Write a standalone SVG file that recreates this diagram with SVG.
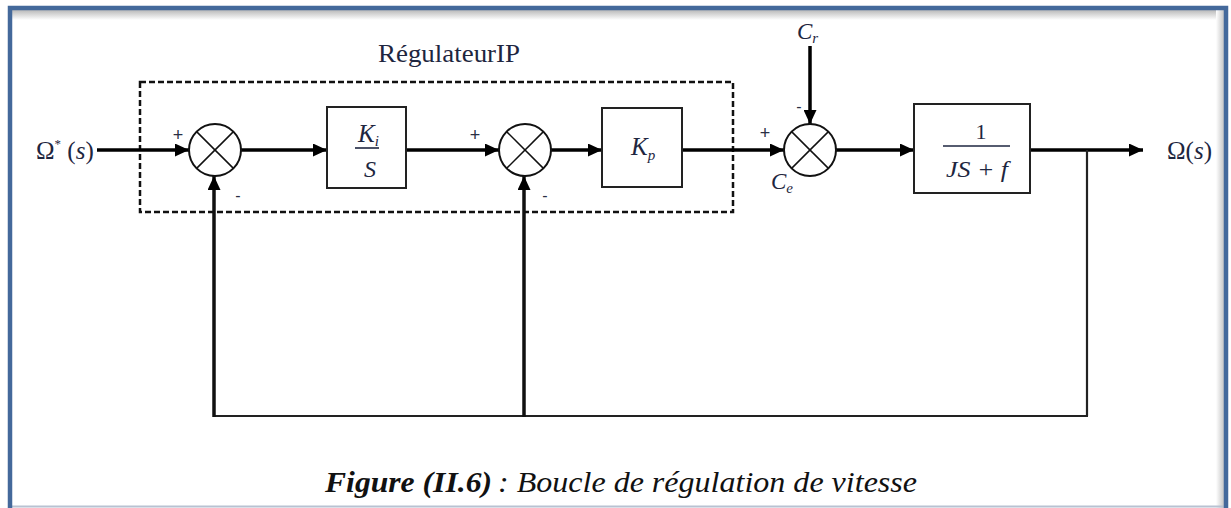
<svg xmlns="http://www.w3.org/2000/svg" width="1231" height="508" viewBox="0 0 1231 508">
<style>
.wire{fill:none;stroke:#000;stroke-width:3.5}
.fb{fill:none;stroke:#111;stroke-width:3.5}
.thin{fill:none;stroke:#222;stroke-width:2.2}
.blk{fill:#fff;stroke:#222;stroke-width:2}
.sum{fill:#fff;stroke:#111;stroke-width:2}
.x{stroke:#111;stroke-width:1.5}
.math{font-family:"Liberation Serif","DejaVu Serif",serif;fill:#1e2640}
.it{font-style:italic}
.sign{font-family:"Liberation Sans",Arial,sans-serif;fill:#2a2f44}
.cap{font-family:"Liberation Serif","Times New Roman",serif;font-style:italic;fill:#111}
</style>
<defs>
<marker id="ah" markerUnits="userSpaceOnUse" markerWidth="14" markerHeight="13" refX="14" refY="6.5" orient="auto">
<path d="M0,0 L14,6.5 L0,13 z" fill="#000"/>
</marker>
<linearGradient id="sh" x1="0" y1="0" x2="0" y2="1">
<stop offset="0" stop-color="#b9b9b9"/>
<stop offset="1" stop-color="#ffffff"/>
</linearGradient>
<linearGradient id="shr" x1="1" y1="0" x2="0" y2="0">
<stop offset="0" stop-color="#c4c4c4"/>
<stop offset="1" stop-color="#ffffff"/>
</linearGradient>
</defs>
<rect width="1231" height="508" fill="#fff"/>
<!-- frame -->
<rect x="12" y="10" width="1212" height="10" fill="url(#sh)"/>
<rect x="1216" y="10" width="8" height="498" fill="url(#shr)"/>
<line x1="12" y1="506.5" x2="1224" y2="506.5" stroke="#b8c2d2" stroke-width="2"/>
<path d="M10,510 V8 H1226 V510" fill="none" stroke="#44699b" stroke-width="4.5"/>

<!-- regulator dashed box -->
<g id="regulateur">
<rect x="140" y="82" width="593" height="130" fill="none" stroke="#111" stroke-width="2.5" stroke-dasharray="6 3"/>
<text x="378" y="62" font-family="'Liberation Serif','Times New Roman',serif" font-size="26" fill="#1e2640" textLength="142" lengthAdjust="spacingAndGlyphs">RégulateurIP</text>
</g>

<!-- connectors -->
<g id="connectors">
<line class="wire" x1="97" y1="150" x2="189" y2="150" marker-end="url(#ah)"/>
<line class="wire" x1="241" y1="150" x2="327" y2="150" marker-end="url(#ah)"/>
<line class="wire" x1="406" y1="150" x2="499" y2="150" marker-end="url(#ah)"/>
<line class="wire" x1="551" y1="150" x2="602" y2="150" marker-end="url(#ah)"/>
<line class="wire" x1="682" y1="150" x2="784" y2="150" marker-end="url(#ah)"/>
<line class="wire" x1="836" y1="150" x2="914" y2="150" marker-end="url(#ah)"/>
<line class="wire" x1="1030" y1="150" x2="1143" y2="150" marker-end="url(#ah)"/>
<line class="wire" x1="810" y1="46" x2="810" y2="124" marker-end="url(#ah)"/>
<line class="thin" x1="1087" y1="150" x2="1087" y2="416"/>
<line class="thin" x1="1088" y1="416" x2="213" y2="416"/>
<line class="fb" x1="214" y1="417" x2="214" y2="176" marker-end="url(#ah)"/>
<line class="fb" x1="524" y1="417" x2="524" y2="176" marker-end="url(#ah)"/>
</g>

<!-- input label -->
<g id="input">
<text class="math" x="36" y="159" font-size="25">Ω<tspan font-size="13" dy="-11">*</tspan><tspan dy="11"> (</tspan><tspan class="it">s</tspan>)</text>
</g>

<!-- summers -->
<g id="sum1">
<circle class="sum" cx="215" cy="150" r="26"/>
<line class="x" x1="196.6" y1="131.6" x2="233.4" y2="168.4"/>
<line class="x" x1="233.4" y1="131.6" x2="196.6" y2="168.4"/>
<text class="sign" x="178" y="141" font-size="18" text-anchor="middle">+</text>
<text class="sign" x="238" y="201" font-size="16" text-anchor="middle">-</text>
</g>
<g id="sum2">
<circle class="sum" cx="525" cy="150" r="26"/>
<line class="x" x1="506.6" y1="131.6" x2="543.4" y2="168.4"/>
<line class="x" x1="543.4" y1="131.6" x2="506.6" y2="168.4"/>
<text class="sign" x="475" y="141" font-size="18" text-anchor="middle">+</text>
<text class="sign" x="545" y="201" font-size="16" text-anchor="middle">-</text>
</g>
<g id="sum3">
<circle class="sum" cx="810" cy="150" r="26"/>
<line class="x" x1="791.6" y1="131.6" x2="828.4" y2="168.4"/>
<line class="x" x1="828.4" y1="131.6" x2="791.6" y2="168.4"/>
<text class="sign" x="765" y="139" font-size="18" text-anchor="middle">+</text>
<text class="sign" x="799" y="112" font-size="16" text-anchor="middle">-</text>
<text class="math it" x="771" y="189" font-size="23">C<tspan font-size="15" dy="4">e</tspan></text>
</g>
<g id="cr">
<text class="math it" x="797" y="39" font-size="23">C<tspan font-size="15" dy="4">r</tspan></text>
</g>

<!-- blocks -->
<g id="ki">
<rect class="blk" x="327" y="107" width="79" height="81"/>
<text class="math it" x="358" y="142" font-size="25">K<tspan font-size="15" dy="4">i</tspan></text>
<line x1="355" y1="148" x2="379" y2="148" stroke="#1e2640" stroke-width="1.6"/>
<text class="math it" x="370" y="177" font-size="24" text-anchor="middle">S</text>
</g>
<g id="kp">
<rect class="blk" x="602" y="108" width="80" height="79"/>
<text class="math it" x="631" y="155" font-size="25">K<tspan font-size="15" dy="5">p</tspan></text>
</g>
<g id="plant">
<rect class="blk" x="914" y="104" width="116" height="89"/>
<text class="math" x="981" y="139" font-size="22" text-anchor="middle">1</text>
<line x1="943" y1="146" x2="1010" y2="146" stroke="#1e2640" stroke-width="1.6"/>
<text class="math it" x="977" y="177" font-size="23" text-anchor="middle" textLength="62" lengthAdjust="spacingAndGlyphs">JS + f</text>
</g>

<!-- output -->
<g id="output">
<text class="math" x="1167" y="159" font-size="25">Ω(<tspan class="it">s</tspan>)</text>
</g>

<!-- caption -->
<g id="caption">
<text class="cap" x="325" y="492" font-size="29" font-weight="bold" textLength="167" lengthAdjust="spacingAndGlyphs">Figure (II.6)</text>
<text class="cap" x="498" y="492" font-size="29" textLength="419" lengthAdjust="spacingAndGlyphs"> : Boucle de régulation de vitesse</text>
</g>
</svg>
